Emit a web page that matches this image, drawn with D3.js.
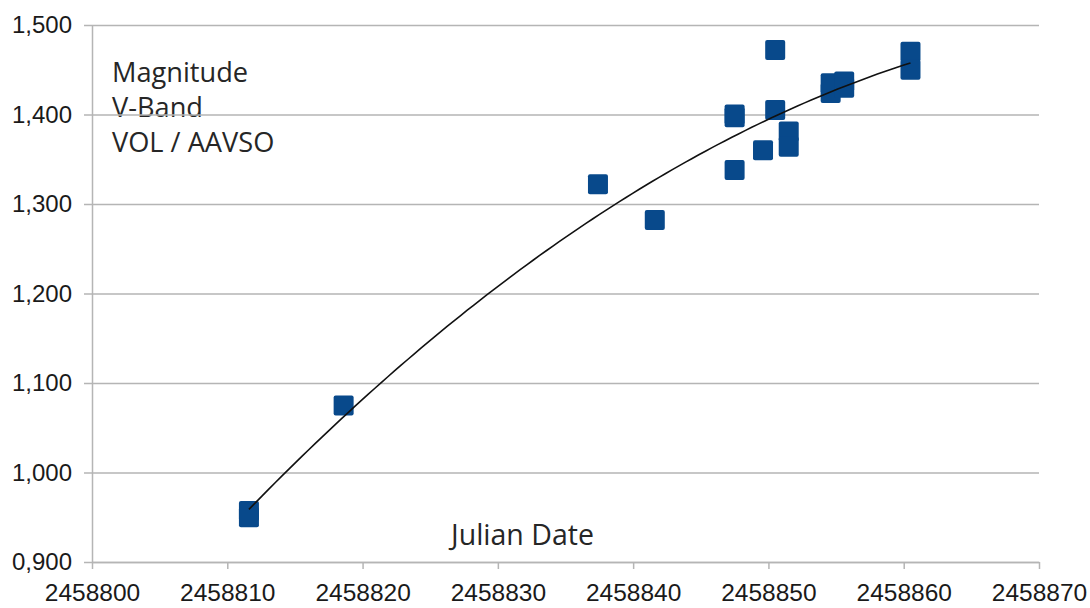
<!DOCTYPE html>
<html>
<head>
<meta charset="utf-8">
<script src="https://cdn.jsdelivr.net/npm/d3@7"></script>
<style>
  html, body { margin: 0; padding: 0; background: #fff; }
  svg { display: block; }
</style>
</head>
<body>
<svg id="chart" width="1090" height="608"></svg>
<script>
// ---- data ----
const julianDates = [2458811.6, 2458811.6, 2458818.6, 2458837.4, 2458841.6,
                     2458847.5, 2458847.5, 2458847.5, 2458849.6, 2458850.5,
                     2458850.5, 2458851.5, 2458851.5, 2458854.6, 2458854.6,
                     2458855.6, 2458855.6, 2458860.5, 2458860.5];
const magnitudes  = [0.957, 0.950, 1.075, 1.322, 1.282,
                     1.397, 1.400, 1.338, 1.360, 1.472,
                     1.405, 1.381, 1.364, 1.435, 1.424,
                     1.437, 1.430, 1.470, 1.450];
const xTicks = [2458800, 2458810, 2458820, 2458830, 2458840, 2458850, 2458860, 2458870];
const yTicks = [0.9, 1.0, 1.1, 1.2, 1.3, 1.4, 1.5];
const noteLines = ["Magnitude", "V-Band", "VOL / AAVSO"];
const xTitle = "Julian Date";

// ---- layout ----
const svg = d3.select("#chart");
const x = d3.scaleLinear().domain([2458800, 2458870]).range([92, 1039]);
const y = d3.scaleLinear().domain([0.9, 1.5]).range([562, 25]);
const loc = d3.formatLocale({decimal: ",", thousands: ".", grouping: [3], currency: ["", ""]});
const fmtY = loc.format(".3f");
const gridColor = "#b5b5b5";
const textColor = "#262626";

// note text (drawn under the grid)
svg.append("g").selectAll("text").data(noteLines).join("text")
  .attr("x", 112)
  .attr("y", (d, i) => 82 + i * 35)
  .attr("font-family", "Open Sans, sans-serif")
  .attr("font-size", 27.2)
  .attr("fill", textColor)
  .text(d => d);

svg.append("text")
  .attr("x", 451)
  .attr("y", 545)
  .attr("font-family", "Open Sans, sans-serif")
  .attr("font-size", 28.5)
  .attr("fill", textColor)
  .text(xTitle);

// horizontal gridlines + y axis
const yAxis = d3.axisLeft(y).tickValues(yTicks).tickFormat(fmtY)
  .tickSize(-(x.range()[1] - x.range()[0])).tickSizeOuter(0).tickPadding(12);
const gy = svg.append("g").attr("transform", `translate(${x.range()[0]},0)`).call(yAxis);
gy.select(".domain").attr("stroke", gridColor).attr("stroke-width", 1.5);
gy.selectAll(".tick line").attr("stroke", gridColor).attr("stroke-width", 1.5)
  .attr("x1", -8);
gy.selectAll(".tick text")
  .attr("x", -20)
  .attr("font-family", "Liberation Sans, Arial, sans-serif")
  .attr("font-size", 24)
  .attr("fill", "#1a1a1a");

// x axis
const xAxis = d3.axisBottom(x).tickValues(xTicks).tickFormat(d3.format("d"))
  .tickSize(7).tickSizeOuter(0).tickPadding(15);
const gx = svg.append("g").attr("transform", `translate(0,${y.range()[0]})`).call(xAxis);
gx.select(".domain").attr("stroke", gridColor).attr("stroke-width", 1.5);
gx.selectAll(".tick line").attr("stroke", gridColor).attr("stroke-width", 1.5);
gx.selectAll(".tick text")
  .attr("font-family", "Liberation Sans, Arial, sans-serif")
  .attr("font-size", 24.5)
  .attr("fill", "#1a1a1a");

// markers
const size = 20;
svg.append("g").selectAll("rect").data(julianDates).join("rect")
  .attr("x", (d) => x(d) - size / 2)
  .attr("y", (d, i) => y(magnitudes[i]) - size / 2)
  .attr("width", size).attr("height", size)
  .attr("rx", 2)
  .attr("fill", "#08498b");

// quadratic least-squares trendline computed from the data
const x0 = 2458800;
const n = julianDates.length;
let S = [0,0,0,0,0], T = [0,0,0];
for (let i = 0; i < n; i++) {
  const t = julianDates[i] - x0, v = magnitudes[i];
  for (let k = 0; k < 5; k++) S[k] += Math.pow(t, k);
  for (let k = 0; k < 3; k++) T[k] += v * Math.pow(t, k);
}
function solve3(A, b) {
  const M = A.map((r, i) => r.concat([b[i]]));
  for (let c = 0; c < 3; c++) {
    let p = c;
    for (let r = c + 1; r < 3; r++) if (Math.abs(M[r][c]) > Math.abs(M[p][c])) p = r;
    [M[c], M[p]] = [M[p], M[c]];
    for (let r = 0; r < 3; r++) if (r !== c) {
      const f = M[r][c] / M[c][c];
      for (let k = c; k < 4; k++) M[r][k] -= f * M[c][k];
    }
  }
  return M.map((r, i) => r[3] / r[i]);
}
const coef = solve3([[S[0], S[1], S[2]], [S[1], S[2], S[3]], [S[2], S[3], S[4]]], T);
const [xmin, xmax] = d3.extent(julianDates);
const trend = d3.range(0, 101).map(k => {
  const jd = xmin + (xmax - xmin) * k / 100;
  const t = jd - x0;
  return [jd, coef[0] + coef[1] * t + coef[2] * t * t];
});
svg.append("path")
  .datum(trend)
  .attr("d", d3.line().x(d => x(d[0])).y(d => y(d[1])))
  .attr("fill", "none")
  .attr("stroke", "#111")
  .attr("stroke-width", 1.6);
</script>
</body>
</html>
